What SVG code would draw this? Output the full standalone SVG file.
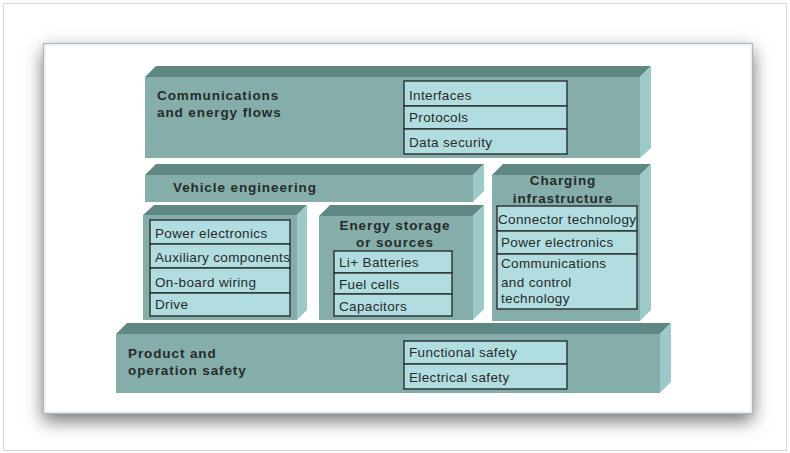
<svg xmlns="http://www.w3.org/2000/svg" width="790" height="453" viewBox="0 0 790 453">
  <defs>
    <filter id="panelShadow" x="-10%" y="-15%" width="120%" height="140%">
      <feDropShadow dx="0" dy="7" stdDeviation="9" flood-color="#000" flood-opacity="0.55"/>
    </filter>
    <style>
      .front { fill: #85aeab; }
      .top { fill: #5f8784; }
      .side { fill: #9dc9c8; }
      .cell { fill: #b2dde0; stroke: #2b2f30; stroke-width: 1.4; }
      .title { font-family: "Liberation Sans", Arial, sans-serif; font-weight: bold; font-size: 13.5px; letter-spacing: 0.9px; fill: #262a2a; }
      .item { font-family: "Liberation Sans", Arial, sans-serif; font-size: 13.5px; letter-spacing: 0.35px; fill: #262a2a; }
      .mid { text-anchor: middle; }
    </style>
  </defs>

  <!-- page frame -->
  <rect x="0" y="0" width="790" height="453" fill="#ffffff"/>
  <rect x="3.5" y="3.5" width="783" height="447" fill="#ffffff" stroke="#d6d8da" stroke-width="1"/>

  <!-- white panel with soft shadow -->
  <rect x="43" y="43" width="710" height="371" fill="#ffffff" filter="url(#panelShadow)"/>
  <rect x="43.5" y="43.5" width="709" height="370" fill="none" stroke="#a9b7c4" stroke-width="1.2"/>
  <rect x="45" y="45" width="706" height="367" fill="none" stroke="#e2e8ee" stroke-width="1"/>

  <!-- Communications and energy flows -->
  <g id="communications">
    <polygon class="top" points="145,77 156,66 651,66 640,77"/>
    <rect class="front" x="145" y="77" width="495" height="81"/>
    <polygon class="side" points="640,77 651,66 651,148 640,158"/>
    <text class="title" x="157" y="100">Communications</text>
    <text class="title" x="157" y="117">and energy flows</text>
    <rect class="cell" x="404" y="81" width="163" height="25"/>
    <rect class="cell" x="404" y="106" width="163" height="23"/>
    <rect class="cell" x="404" y="129" width="163" height="25"/>
    <text class="item" x="409" y="100">Interfaces</text>
    <text class="item" x="409" y="122">Protocols</text>
    <text class="item" x="409" y="147">Data security</text>
  </g>

  <!-- Vehicle engineering -->
  <g id="vehicle-engineering">
    <polygon class="top" points="145,175 156,164 484,164 473,175"/>
    <rect class="front" x="145" y="175" width="328" height="27"/>
    <polygon class="side" points="473,175 484,164 484,191 473,202"/>
    <text class="title" x="173" y="192">Vehicle engineering</text>
  </g>

  <!-- Vehicle components -->
  <g id="vehicle-components">
    <polygon class="top" points="143,215 154,205 307,205 297,215"/>
    <rect class="front" x="143" y="215" width="154" height="105"/>
    <polygon class="side" points="297,215 307,205 307,310 297,320"/>
    <rect class="cell" x="150" y="220" width="140" height="24"/>
    <rect class="cell" x="150" y="244" width="140" height="24"/>
    <rect class="cell" x="150" y="268" width="140" height="25"/>
    <rect class="cell" x="150" y="293" width="140" height="23"/>
    <text class="item" x="155" y="238">Power electronics</text>
    <text class="item" x="155" y="262">Auxiliary components</text>
    <text class="item" x="155" y="287">On-board wiring</text>
    <text class="item" x="155" y="309">Drive</text>
  </g>

  <!-- Energy storage or sources -->
  <g id="energy-storage">
    <polygon class="top" points="319,216 330,205 484,205 473,216"/>
    <rect class="front" x="319" y="216" width="154" height="104"/>
    <polygon class="side" points="473,216 484,205 484,309 473,320"/>
    <text class="title mid" x="395" y="230">Energy storage</text>
    <text class="title mid" x="395" y="247">or sources</text>
    <rect class="cell" x="334" y="251" width="118" height="22"/>
    <rect class="cell" x="334" y="273" width="118" height="21"/>
    <rect class="cell" x="334" y="294" width="118" height="22"/>
    <text class="item" x="339" y="267">Li+ Batteries</text>
    <text class="item" x="339" y="289">Fuel cells</text>
    <text class="item" x="339" y="311">Capacitors</text>
  </g>

  <!-- Charging infrastructure -->
  <g id="charging-infrastructure">
    <polygon class="top" points="492,175 503,164 651,164 640,175"/>
    <rect class="front" x="492" y="175" width="148" height="146"/>
    <polygon class="side" points="640,175 651,164 651,310 640,321"/>
    <text class="title mid" x="563" y="185">Charging</text>
    <text class="title mid" x="563" y="203">infrastructure</text>
    <rect class="cell" x="497" y="206" width="140" height="25"/>
    <rect class="cell" x="497" y="231" width="140" height="23"/>
    <rect class="cell" x="497" y="254" width="140" height="55"/>
    <text class="item" x="498" y="224">Connector technology</text>
    <text class="item" x="501" y="247">Power electronics</text>
    <text class="item" x="501" y="268">Communications</text>
    <text class="item" x="501" y="287">and control</text>
    <text class="item" x="501" y="303">technology</text>
  </g>

  <!-- Product and operation safety -->
  <g id="product-safety">
    <polygon class="top" points="116,334 127,323 671,323 660,334"/>
    <rect class="front" x="116" y="334" width="544" height="59"/>
    <polygon class="side" points="660,334 671,323 671,382 660,393"/>
    <text class="title" x="128" y="358">Product and</text>
    <text class="title" x="128" y="375">operation safety</text>
    <rect class="cell" x="404" y="341" width="163" height="23"/>
    <rect class="cell" x="404" y="364" width="163" height="25"/>
    <text class="item" x="409" y="357">Functional safety</text>
    <text class="item" x="409" y="382">Electrical safety</text>
  </g>
</svg>
